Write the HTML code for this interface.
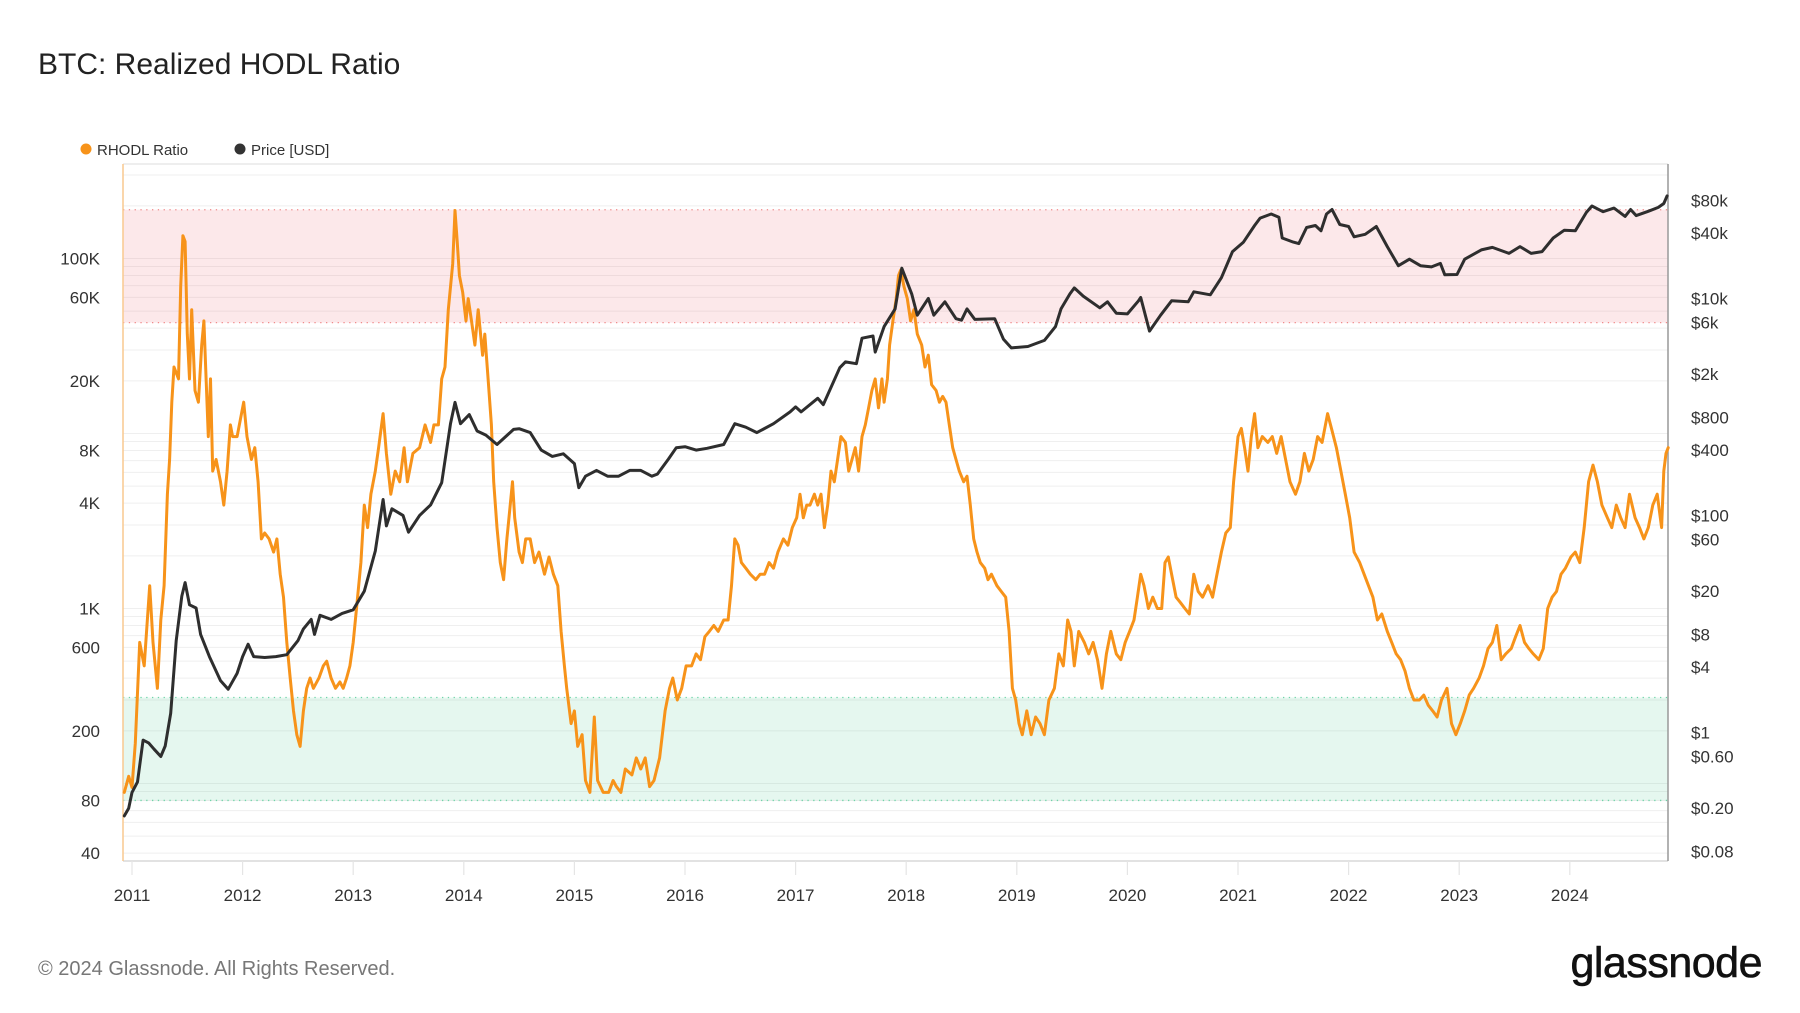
<!DOCTYPE html>
<html><head><meta charset="utf-8"><style>
html,body{margin:0;padding:0;background:#fff;}
svg{display:block;font-family:"Liberation Sans",sans-serif;}
</style></head><body>
<svg id="chart" width="1800" height="1013" viewBox="0 0 1800 1013" xmlns="http://www.w3.org/2000/svg">
<rect width="1800" height="1013" fill="#fff"/>
<text x="38" y="74" font-size="30" fill="#222">BTC: Realized HODL Ratio</text>
<g>
<g><circle cx="86" cy="149" r="5.5" fill="#f7931a"/><text x="97" y="155" font-size="15" fill="#333">RHODL Ratio</text></g>
<g><circle cx="240" cy="149" r="5.5" fill="#333"/><text x="251" y="155" font-size="15" fill="#333">Price [USD]</text></g>
</g>
<g id="grid"></g><g id="bands"></g><g id="axes"></g><g id="series"></g>
<text x="38" y="975" font-size="20" fill="#777">© 2024 Glassnode. All Rights Reserved.</text>
<text x="1762" y="977" font-size="43" fill="#111" text-anchor="end" letter-spacing="-0.5" stroke="#111" stroke-width="0.6">glassnode</text>
</svg>
<script>
const yearTicks=[2011,2012,2013,2014,2015,2016,2017,2018,2019,2020,2021,2022,2023,2024];
const leftTicks=[40,80,200,600,1000,4000,8000,20000,60000,100000];
const leftLabels=["40","80","200","600","1K","4K","8K","20K","60K","100K"];
const rightTicks=[0.08,0.2,0.6,1,4,8,20,60,100,400,800,2000,6000,10000,40000,80000];
const rightLabels=["$0.08","$0.20","$0.60","$1","$4","$8","$20","$60","$100","$400","$800","$2k","$6k","$10k","$40k","$80k"];
const redBand=[43000,190000];
const greenBand=[80,310];
const rhodlDates=[2010.93,2010.97,2011.0,2011.03,2011.07,2011.11,2011.16,2011.19,2011.23,2011.26,2011.29,2011.32,2011.34,2011.36,2011.38,2011.42,2011.44,2011.46,2011.48,2011.50,2011.52,2011.54,2011.57,2011.60,2011.63,2011.65,2011.69,2011.71,2011.73,2011.76,2011.80,2011.83,2011.86,2011.89,2011.91,2011.95,2011.99,2012.01,2012.04,2012.08,2012.11,2012.14,2012.17,2012.20,2012.24,2012.28,2012.31,2012.34,2012.37,2012.40,2012.43,2012.46,2012.49,2012.52,2012.55,2012.58,2012.61,2012.64,2012.69,2012.73,2012.76,2012.80,2012.84,2012.88,2012.91,2012.94,2012.97,2013.0,2013.03,2013.07,2013.10,2013.13,2013.16,2013.2,2013.23,2013.27,2013.30,2013.34,2013.38,2013.42,2013.46,2013.49,2013.54,2013.60,2013.65,2013.70,2013.73,2013.77,2013.80,2013.83,2013.86,2013.90,2013.92,2013.94,2013.96,2013.99,2014.02,2014.04,2014.07,2014.10,2014.13,2014.17,2014.19,2014.22,2014.25,2014.27,2014.30,2014.33,2014.36,2014.39,2014.44,2014.46,2014.50,2014.53,2014.56,2014.60,2014.64,2014.68,2014.73,2014.77,2014.81,2014.85,2014.88,2014.91,2014.93,2014.97,2015.00,2015.03,2015.07,2015.10,2015.14,2015.18,2015.21,2015.26,2015.31,2015.35,2015.38,2015.42,2015.46,2015.52,2015.56,2015.60,2015.64,2015.68,2015.72,2015.77,2015.82,2015.86,2015.89,2015.93,2015.97,2016.01,2016.06,2016.10,2016.14,2016.18,2016.22,2016.26,2016.30,2016.35,2016.39,2016.42,2016.45,2016.48,2016.51,2016.55,2016.59,2016.64,2016.68,2016.72,2016.76,2016.80,2016.84,2016.89,2016.93,2016.97,2017.01,2017.04,2017.07,2017.10,2017.13,2017.17,2017.20,2017.23,2017.26,2017.29,2017.32,2017.35,2017.38,2017.41,2017.45,2017.48,2017.51,2017.54,2017.57,2017.60,2017.63,2017.66,2017.69,2017.72,2017.75,2017.78,2017.80,2017.83,2017.85,2017.88,2017.91,2017.93,2017.95,2017.98,2018.01,2018.04,2018.07,2018.10,2018.14,2018.17,2018.20,2018.23,2018.27,2018.30,2018.33,2018.36,2018.39,2018.42,2018.45,2018.48,2018.52,2018.55,2018.58,2018.61,2018.64,2018.67,2018.71,2018.74,2018.77,2018.82,2018.86,2018.90,2018.93,2018.96,2018.99,2019.02,2019.05,2019.09,2019.13,2019.17,2019.21,2019.25,2019.29,2019.34,2019.38,2019.42,2019.46,2019.49,2019.52,2019.56,2019.61,2019.65,2019.69,2019.73,2019.77,2019.81,2019.85,2019.90,2019.94,2019.98,2020.02,2020.06,2020.09,2020.12,2020.15,2020.19,2020.23,2020.27,2020.31,2020.34,2020.37,2020.40,2020.44,2020.48,2020.52,2020.56,2020.60,2020.64,2020.68,2020.73,2020.77,2020.81,2020.85,2020.89,2020.93,2020.96,2021.00,2021.03,2021.06,2021.09,2021.12,2021.15,2021.18,2021.22,2021.27,2021.31,2021.35,2021.39,2021.43,2021.47,2021.52,2021.56,2021.60,2021.64,2021.68,2021.72,2021.76,2021.81,2021.85,2021.89,2021.93,2021.97,2022.01,2022.05,2022.10,2022.14,2022.18,2022.22,2022.26,2022.30,2022.35,2022.39,2022.43,2022.47,2022.51,2022.55,2022.59,2022.64,2022.68,2022.72,2022.76,2022.80,2022.84,2022.89,2022.93,2022.97,2023.01,2023.05,2023.09,2023.13,2023.18,2023.22,2023.26,2023.30,2023.34,2023.38,2023.42,2023.47,2023.51,2023.55,2023.59,2023.63,2023.67,2023.72,2023.76,2023.80,2023.84,2023.88,2023.92,2023.96,2024.01,2024.05,2024.09,2024.13,2024.17,2024.21,2024.25,2024.29,2024.34,2024.38,2024.42,2024.46,2024.50,2024.54,2024.59,2024.63,2024.67,2024.71,2024.75,2024.79,2024.83,2024.85,2024.87,2024.89];
const rhodlValues=[89,110,95,170,640,470,1350,640,350,860,1350,4500,7100,15100,24000,20500,69000,135000,125000,37000,20500,51000,17600,15100,32000,44000,9600,20500,6100,7100,5300,3900,6100,11200,9600,9600,13000,15100,9600,7100,8300,5300,2500,2700,2500,2100,2500,1570,1160,640,400,260,190,163,260,350,400,350,400,470,500,400,350,380,350,400,470,640,1000,1830,3900,2900,4500,6100,8300,13000,7700,4500,6100,5300,8300,5300,7700,8300,11200,8900,11200,11200,20500,24000,51000,93000,188000,125000,80000,64000,44000,59000,44000,32000,51000,28000,37000,20500,11200,5300,2900,1830,1460,2500,5300,3300,2100,1830,2500,2500,1830,2100,1570,1970,1570,1350,740,470,350,220,260,163,190,104,89,240,104,89,89,104,96,89,121,112,140,121,140,96,104,140,260,350,400,300,350,470,470,550,510,690,740,800,740,860,860,1350,2500,2300,1830,1700,1570,1460,1570,1570,1830,1700,2100,2500,2300,2900,3300,4500,3300,3900,3900,4500,3900,4500,2900,3900,6100,5300,7100,9600,8900,6100,7100,8300,6100,9600,11200,14000,17600,20500,14000,20500,15100,20500,32000,44000,59000,80000,86000,69000,59000,44000,51000,37000,32000,24000,28000,19000,17600,15100,16300,15100,11200,8300,7100,6100,5300,5700,3900,2500,2100,1830,1700,1460,1570,1350,1250,1160,740,350,300,220,190,260,190,240,220,190,300,350,550,470,860,740,470,740,640,550,640,510,350,550,740,550,510,640,740,860,1160,1570,1350,1000,1160,1000,1000,1830,1970,1570,1160,1080,1000,930,1570,1250,1160,1350,1160,1570,2100,2700,2900,5300,9600,10700,8300,6100,9600,13000,8300,9600,8900,9600,7700,9600,7100,5300,4500,5300,7700,6100,7100,9600,8900,13000,10400,8300,6100,4500,3300,2100,1830,1570,1350,1160,860,930,740,640,550,510,440,350,300,300,320,280,260,240,300,350,220,190,220,260,320,350,400,470,590,640,800,510,550,590,690,800,640,590,550,510,590,1000,1160,1250,1570,1700,1970,2100,1830,2900,5300,6600,5300,3900,3300,2900,3900,3300,2900,4500,3300,2900,2500,2900,3900,4500,2900,6100,7700,8300];
const priceDates=[2010.93,2010.97,2011.0,2011.05,2011.1,2011.15,2011.2,2011.26,2011.3,2011.35,2011.4,2011.45,2011.48,2011.52,2011.58,2011.62,2011.7,2011.8,2011.87,2011.95,2012.0,2012.05,2012.1,2012.2,2012.3,2012.4,2012.5,2012.55,2012.62,2012.65,2012.7,2012.8,2012.9,2013.0,2013.1,2013.2,2013.27,2013.3,2013.35,2013.45,2013.5,2013.6,2013.7,2013.8,2013.88,2013.92,2013.97,2014.05,2014.12,2014.2,2014.3,2014.45,2014.5,2014.6,2014.7,2014.8,2014.9,2015.0,2015.04,2015.1,2015.2,2015.3,2015.4,2015.5,2015.6,2015.7,2015.75,2015.85,2015.92,2016.0,2016.1,2016.2,2016.35,2016.45,2016.55,2016.65,2016.8,2016.95,2017.0,2017.05,2017.2,2017.25,2017.4,2017.45,2017.55,2017.6,2017.7,2017.72,2017.8,2017.9,2017.96,2018.05,2018.1,2018.2,2018.25,2018.35,2018.45,2018.5,2018.55,2018.62,2018.8,2018.88,2018.95,2019.1,2019.25,2019.35,2019.4,2019.48,2019.52,2019.6,2019.75,2019.82,2019.9,2020.0,2020.1,2020.12,2020.2,2020.3,2020.4,2020.55,2020.6,2020.75,2020.85,2020.95,2021.05,2021.15,2021.2,2021.3,2021.37,2021.4,2021.5,2021.55,2021.62,2021.7,2021.75,2021.8,2021.85,2021.92,2022.0,2022.05,2022.15,2022.25,2022.35,2022.45,2022.55,2022.65,2022.75,2022.83,2022.87,2022.98,2023.05,2023.2,2023.3,2023.45,2023.55,2023.65,2023.75,2023.85,2023.95,2024.05,2024.15,2024.2,2024.3,2024.4,2024.5,2024.55,2024.6,2024.7,2024.8,2024.85,2024.88];
const priceValues=[0.17,0.2,0.28,0.35,0.85,0.8,0.7,0.6,0.75,1.5,7,18,24,15,14,8,5,3,2.5,3.5,5,6.5,5,4.9,5,5.2,7,9,11,8,12,11,12.5,13.5,20,47,140,80,115,100,70,100,125,200,700,1100,700,850,600,550,450,620,630,580,400,350,370,300,180,230,260,230,230,260,260,230,240,330,420,430,400,415,450,700,650,580,700,900,1000,900,1200,1050,2300,2600,2500,4300,4500,3200,5500,8000,19000,11000,7000,10000,7000,9300,6500,6300,8000,6400,6500,4200,3500,3600,4100,5500,8000,11000,12500,10500,8200,9300,7300,7200,9500,10200,5000,7000,9500,9300,11500,10800,15500,27000,33000,47000,55000,60000,56000,36000,33000,32000,45000,47000,42000,60000,66000,48000,46000,37000,39000,46000,30000,20000,23000,20000,19500,21000,16500,16600,23000,28000,29500,26000,30000,26000,27000,36000,42500,42000,62000,71000,63000,68000,57000,66000,58000,63000,69000,75000,88000];

const NS='http://www.w3.org/2000/svg';
const PL=123,PR=1668,PT=164,PB=861;
function xScale(t){return 132+(t-2011)*110.6;}
function yLeft(v){return 608.5-175*(Math.log10(v)-3);}
function yRight(v){return 732.4-108.5*Math.log10(v);}
function mk(tag,attrs,parent){const e=document.createElementNS(NS,tag);for(const k in attrs)e.setAttribute(k,attrs[k]);parent.appendChild(e);return e;}
const grid=document.getElementById('grid'),bands=document.getElementById('bands'),axes=document.getElementById('axes'),series=document.getElementById('series');

for(let p=1;p<=5;p++){for(let m=1;m<10;m++){const v=m*Math.pow(10,p);const y=yLeft(v);if(y<PT||y>PB)continue;
const g=mk('line',{x1:PL,x2:PR,y1:y,y2:y,stroke:'#efefef','stroke-width':1},grid);

}}
function band(vals,fill,stroke,name){const y1=yLeft(vals[1]),y2=yLeft(vals[0]);
const r=mk('rect',{x:PL,y:y1,width:PR-PL,height:y2-y1,fill:fill},bands);


[y1,y2].forEach(y=>{const l=mk('line',{x1:PL,x2:PR,y1:y,y2:y,stroke:stroke,'stroke-width':1.3,'stroke-dasharray':'1.3,4.5'},bands);

});}
band(redBand,'rgba(240,120,130,0.17)','#f08a8a','red-band');
band(greenBand,'rgba(100,210,160,0.17)','#6fd4a8','green-band');

let a=mk('line',{x1:PL,x2:PR,y1:PT,y2:PT,stroke:'#e8e8e8','stroke-width':1.5},axes);


a=mk('line',{x1:PL,x2:PR,y1:PB,y2:PB,stroke:'#d8d8d8','stroke-width':1.5},axes);


a=mk('line',{x1:PL,x2:PL,y1:PT,y2:PB,stroke:'#f9c98f','stroke-width':1.5},axes);


a=mk('line',{x1:PR,x2:PR,y1:PT,y2:PB,stroke:'#999','stroke-width':1.5},axes);



yearTicks.forEach(yr=>{const x=xScale(yr);
const tk=mk('line',{x1:x,x2:x,y1:PB,y2:PB+14,stroke:'#e5e5e5','stroke-width':1.2},axes);


const t=mk('text',{x:x,y:901,'font-size':17,fill:'#333','text-anchor':'middle'},axes);t.textContent=yr;

});
leftTicks.forEach((v,i)=>{const t=mk('text',{x:100,y:yLeft(v)+6,'font-size':17,fill:'#333','text-anchor':'end'},axes);t.textContent=leftLabels[i];

});
rightTicks.forEach((v,i)=>{const t=mk('text',{x:1691,y:yRight(v)+6,'font-size':17,fill:'#333'},axes);t.textContent=rightLabels[i];

});

function path(ds,vs,ys,color,name){let d='';for(let i=0;i<ds.length;i++){d+=(i?'L':'M')+xScale(ds[i]).toFixed(1)+','+ys(vs[i]).toFixed(1);}
const p=mk('path',{d:d,fill:'none',stroke:color,'stroke-width':3,'stroke-linejoin':'round','stroke-linecap':'round'},series);

}
path(rhodlDates,rhodlValues,yLeft,'#f7931a','rhodl-ratio-line');
path(priceDates,priceValues,yRight,'#2e2e2e','price-line');
</script>
</body></html>
